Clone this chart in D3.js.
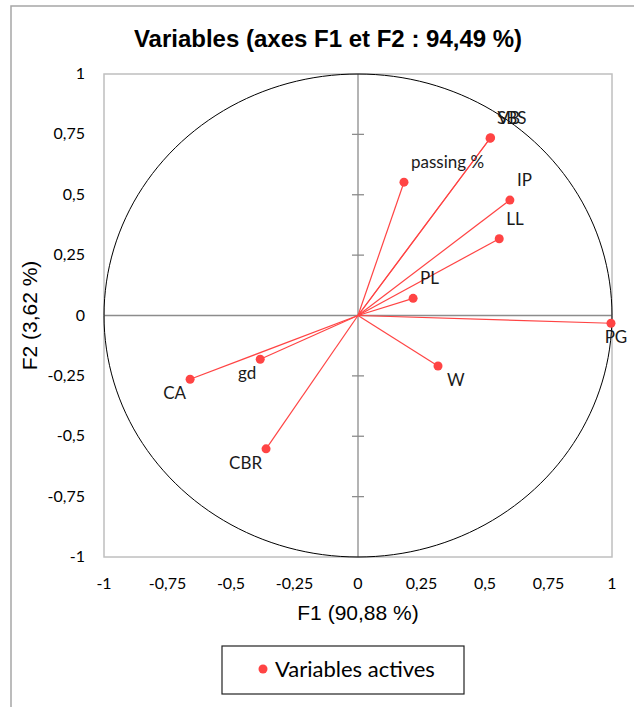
<!DOCTYPE html>
<html><head><meta charset="utf-8">
<script src="https://cdn.jsdelivr.net/npm/d3@7"></script>
<style>body{margin:0;background:#fff;}svg{display:block;}</style>
</head><body>
<svg id="c" width="634" height="707"></svg>
<script>
// ---- data ----
const variables = ["SBS", "VB", "passing %", "IP", "LL", "PL", "PG", "W", "gd", "CA", "CBR"];
const f1Values  = [0.520, 0.522, 0.181, 0.598, 0.556, 0.217, 0.996, 0.315, -0.385, -0.661, -0.362];
const f2Values  = [0.734, 0.736, 0.552, 0.478, 0.318, 0.071, -0.032, -0.209, -0.181, -0.264, -0.552];
const labelPlace = ["right-above", "right-above", "right-above", "right-above", "right-above", "right-above", "below", "right-below", "left-below", "left-below", "left-below"];
const tickValues = [-1, -0.75, -0.5, -0.25, 0, 0.25, 0.5, 0.75, 1];
const tickLabels = ["-1", "-0,75", "-0,5", "-0,25", "0", "0,25", "0,5", "0,75", "1"];
const chartTitle = "Variables (axes F1 et F2 : 94,49 %)";
const xTitle = "F1 (90,88 %)";
const yTitle = "F2 (3,62 %)";
const legendLabel = "Variables actives";

const red = "#ff4444";
const svg = d3.select("#c");
const x = d3.scaleLinear().domain([-1, 1]).range([104, 612]);
const y = d3.scaleLinear().domain([-1, 1]).range([557, 74]);

// outer frame
svg.append("rect").attr("x", 11).attr("y", 6).attr("width", 640).attr("height", 720)
  .attr("fill", "none").attr("stroke", "#a6a6a6").attr("stroke-width", 1.5);

// title
svg.append("text").attr("x", 328).attr("y", 47).attr("text-anchor", "middle")
  .attr("font-family", "Liberation Sans, Arial, sans-serif").attr("font-weight", "bold")
  .attr("font-size", 24).attr("fill", "#000").text(chartTitle);

// plot border
svg.append("rect").attr("x", x(-1)).attr("y", y(1)).attr("width", x(1) - x(-1)).attr("height", y(-1) - y(1))
  .attr("fill", "none").attr("stroke", "#bfbfbf").attr("stroke-width", 1.5);

// zero axes
svg.append("line").attr("x1", x(-1)).attr("x2", x(1)).attr("y1", y(0)).attr("y2", y(0))
  .attr("stroke", "#8c8c8c").attr("stroke-width", 1.3);
svg.append("line").attr("x1", x(0)).attr("x2", x(0)).attr("y1", y(-1)).attr("y2", y(1))
  .attr("stroke", "#8c8c8c").attr("stroke-width", 1.3);
// ticks on vertical zero axis
svg.selectAll(".yt").data(tickValues.filter(v => v !== 0 && Math.abs(v) !== 1)).enter().append("line")
  .attr("x1", x(0) - 6).attr("x2", x(0) + 6).attr("y1", d => y(d)).attr("y2", d => y(d))
  .attr("stroke", "#8c8c8c").attr("stroke-width", 1.3);

// correlation circle (ellipse in pixel space)
const circ = d3.range(0, 361, 2).map(a => [Math.cos(a * Math.PI / 180), Math.sin(a * Math.PI / 180)]);
svg.append("path").datum(circ)
  .attr("d", d3.line().x(d => x(d[0])).y(d => y(d[1])).curve(d3.curveLinearClosed))
  .attr("fill", "none").attr("stroke", "#000").attr("stroke-width", 1);

// tick labels
const tickFont = "Lato, 'Open Sans', sans-serif";
svg.selectAll(".xl").data(tickValues).enter().append("text")
  .attr("x", d => x(d)).attr("y", 589).attr("text-anchor", "middle")
  .attr("font-family", tickFont).attr("font-size", 16).attr("fill", "#000")
  .text((d, i) => tickLabels[i]);
svg.selectAll(".yl").data(tickValues).enter().append("text")
  .attr("x", 85).attr("y", d => y(d) + 5).attr("text-anchor", "end")
  .attr("font-family", tickFont).attr("font-size", 16).attr("fill", "#000")
  .text((d, i) => tickLabels[i]);

// axis titles
svg.append("text").attr("x", x(0)).attr("y", 620).attr("text-anchor", "middle")
  .attr("font-family", "Liberation Sans, Arial, sans-serif").attr("font-size", 21).attr("fill", "#000")
  .text(xTitle);
svg.append("text").attr("transform", `translate(37,${y(0)}) rotate(-90)`).attr("text-anchor", "middle")
  .attr("font-family", "Liberation Sans, Arial, sans-serif").attr("font-size", 21).attr("fill", "#000")
  .text(yTitle);

// vectors
const pts = variables.map((v, i) => ({name: v, f1: f1Values[i], f2: f2Values[i], place: labelPlace[i]}));
svg.selectAll(".vec").data(pts).enter().append("line")
  .attr("x1", x(0)).attr("y1", y(0)).attr("x2", d => x(d.f1)).attr("y2", d => y(d.f2))
  .attr("stroke", red).attr("stroke-width", 1.2);
svg.selectAll(".pt").data(pts).enter().append("circle")
  .attr("cx", d => x(d.f1)).attr("cy", d => y(d.f2)).attr("r", 4.5).attr("fill", red);

const placeCfg = {
  "right-above": {anchor: "start", dx: 7, dy: -14},
  "right-below": {anchor: "start", dx: 9, dy: 20},
  "left-below": {anchor: "end", dx: -4, dy: 20},
  "below": {anchor: "middle", dx: 5, dy: 20}
};
svg.selectAll(".lab").data(pts).enter().append("text")
  .attr("x", d => x(d.f1) + placeCfg[d.place].dx)
  .attr("y", d => y(d.f2) + placeCfg[d.place].dy)
  .attr("text-anchor", d => placeCfg[d.place].anchor)
  .attr("font-family", tickFont).attr("font-size", 17).attr("fill", "#1a1a1a")
  .text(d => d.name);

// legend
svg.append("rect").attr("x", 222).attr("y", 646).attr("width", 242).attr("height", 48)
  .attr("fill", "#fff").attr("stroke", "#222").attr("stroke-width", 1.2);
svg.append("circle").attr("cx", 263).attr("cy", 669).attr("r", 4.5).attr("fill", red);
svg.append("text").attr("x", 275).attr("y", 677).attr("font-family", tickFont)
  .attr("font-size", 22).attr("fill", "#000").text(legendLabel);
</script>
</body></html>
